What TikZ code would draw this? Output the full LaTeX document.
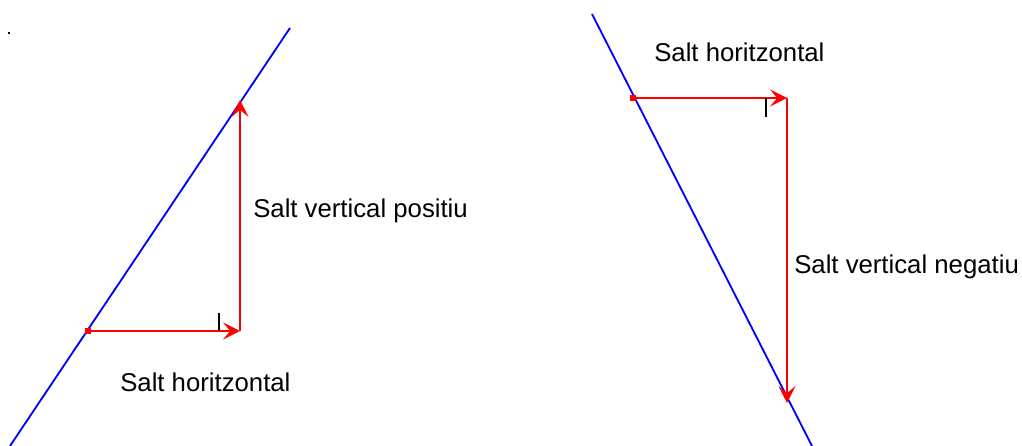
\documentclass[tikz,border=0pt]{standalone}
\usepackage{fontspec}
\setmainfont{Liberation Sans}
\usetikzlibrary{arrows.meta}

\begin{document}
\begin{tikzpicture}[x=0.025cm, y=-0.025cm,
                    ramp/.style={blue, line width=1.3pt},
                    jump/.style={-{Stealth[length=12pt, width=12pt, inset=5pt]}, red, line width=1.8pt},
                    endpt/.style={fill=red, draw=none, inner sep=0pt, minimum size=4.5pt, rectangle},
                    tickmark/.style={black, line width=1.1pt},
                    lbl/.style={font=\fontsize{18.3}{22}\selectfont, inner sep=0pt, anchor=base west}]

    \useasboundingbox (0,0) rectangle (1022,446);

    \fill[black] (8,32) rectangle (10,34);

    \coordinate (la) at (10,446);
    \coordinate (lb) at (290,28);
    \draw[ramp] (la) -- (lb);

    \node[endpt] (p0) at (88,331) {};
    \coordinate (p1) at (240,331);
    \coordinate (p2) at (240,100);
    \draw[jump] (p0.center) -- (p1);
    \draw[jump] (p1) -- (p2);
    \coordinate (t0) at (219,313);
    \coordinate (t1) at (219,331);
    \draw[tickmark] (t0) -- (t1);

    \node[lbl] (vpos) at (253,218) {Salt vertical positiu};
    \node[lbl] (hleft) at (120,391) {Salt horitzontal};

    \coordinate (ra) at (592,14);
    \coordinate (rb) at (812,446);
    \draw[ramp] (ra) -- (rb);

    \node[endpt] (q0) at (633,98) {};
    \coordinate (q1) at (787,98);
    \coordinate (q2) at (787,403);
    \draw[jump] (q0.center) -- (q1);
    \draw[jump] (q1) -- (q2);
    \coordinate (s0) at (766,98);
    \coordinate (s1) at (766,117);
    \draw[tickmark] (s0) -- (s1);

    \node[lbl] (hright) at (654,62) {Salt horitzontal};
    \node[lbl] (vneg) at (794,274) {Salt vertical negatiu};
\end{tikzpicture}
\end{document}
